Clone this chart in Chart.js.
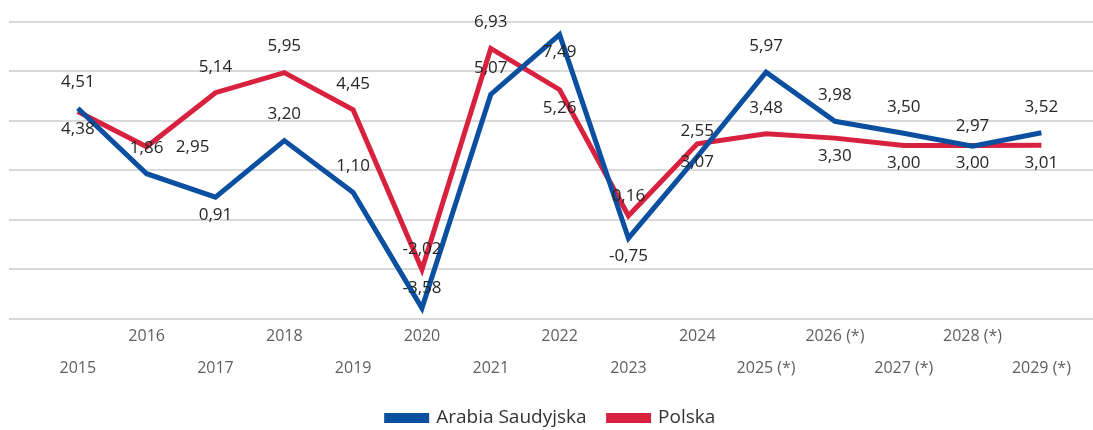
<!DOCTYPE html>
<html>
<head>
    <meta charset="utf-8">
    <title>Arabia Saudyjska / Polska</title>
    <script src="https://cdn.jsdelivr.net/npm/chart.js@4.4.1/dist/chart.umd.min.js"></script>
    <style>
        html, body {
            margin: 0;
            padding: 0;
            background: #ffffff;
        }
        .chart-box {
            width: 1093px;
            height: 430px;
            position: relative;
        }
    </style>
</head>
<body>
    <div class="chart-box">
        <canvas id="gdpChart"></canvas>
    </div>

    <script>
        // years (numeric position) and their axis labels
        const years = [2015, 2016, 2017, 2018, 2019, 2020, 2021, 2022, 2023, 2024, 2025, 2026, 2027, 2028, 2029];
        const yearLabels = ['2015', '2016', '2017', '2018', '2019', '2020', '2021', '2022', '2023', '2024',
            '2025 (*)', '2026 (*)', '2027 (*)', '2028 (*)', '2029 (*)'];

        const saudiValues = [4.51, 1.86, 0.91, 3.20, 1.10, -3.58, 5.07, 7.49, -0.75, 2.55, 5.97, 3.98, 3.50, 2.97, 3.52];
        const polandValues = [4.38, 2.95, 5.14, 5.95, 4.45, -2.02, 6.93, 5.26, 0.16, 3.07, 3.48, 3.30, 3.00, 3.00, 3.01];

        // where each value label sits relative to its point: t = above, n = just above, b = below, r = right
        const saudiLabelPos = ['t', 't', 'b', 't', 't', 'n', 't', 'b', 'b', 't', 't', 't', 't', 'n', 't'];
        const polandLabelPos = ['b', 'r', 't', 't', 't', 'n', 't', 'b', 'n', 'b', 't', 'b', 'b', 'b', 'b'];

        const blue = '#0b4fa1';
        const red = '#d8213f';

        function toPoints(values) {
            return values.map((v, i) => ({ x: years[i], y: v }));
        }

        // draws the value next to every point
        const valueLabels = {
            id: 'valueLabels',
            afterDatasetsDraw(chart) {
                const ctx = chart.ctx;
                ctx.save();
                ctx.font = '17px "Open Sans", sans-serif';
                ctx.fillStyle = '#262626';
                ctx.textAlign = 'center';
                ctx.textBaseline = 'middle';
                chart.data.datasets.forEach((ds, di) => {
                    const meta = chart.getDatasetMeta(di);
                    meta.data.forEach((pt, i) => {
                        const pos = ds.labelPos[i];
                        let x = pt.x, y = pt.y;
                        if (pos === 't') y -= 26;
                        else if (pos === 'n') y -= 20;
                        else if (pos === 'b') y += 18;
                        else if (pos === 'r') x += 46;
                        const txt = ds.data[i].y.toFixed(2).replace('.', ',');
                        ctx.fillText(txt, x, y);
                    });
                });
                ctx.restore();
            }
        };

        Chart.defaults.font.family = '"Open Sans", sans-serif';

        const ctx = document.getElementById('gdpChart').getContext('2d');
        new Chart(ctx, {
            type: 'line',
            data: {
                datasets: [{
                    label: 'Arabia Saudyjska',
                    data: toPoints(saudiValues),
                    labelPos: saudiLabelPos,
                    borderColor: blue,
                    backgroundColor: blue,
                    borderWidth: 5,
                    pointRadius: 0,
                    tension: 0
                }, {
                    label: 'Polska',
                    data: toPoints(polandValues),
                    labelPos: polandLabelPos,
                    borderColor: red,
                    backgroundColor: red,
                    borderWidth: 5,
                    pointRadius: 0,
                    tension: 0
                }]
            },
            options: {
                responsive: true,
                maintainAspectRatio: false,
                animation: false,
                layout: {
                    padding: { top: 22, left: 9, right: 0, bottom: -7.5 }
                },
                scales: {
                    x: {
                        type: 'linear',
                        min: 2014,
                        max: 2029.75,
                        grid: { display: false, drawTicks: false },
                        border: { display: false },
                        afterBuildTicks: axis => {
                            axis.ticks = years.map(v => ({ value: v }));
                        },
                        ticks: {
                            autoSkip: false,
                            maxRotation: 0,
                            padding: 2,
                            color: '#5f5f5f',
                            font: { size: 16, lineHeight: '32px' },
                            callback: function (value) {
                                const i = years.indexOf(value);
                                if (i < 0) return '';
                                return i % 2 === 0 ? ['', yearLabels[i]] : [yearLabels[i], ''];
                            }
                        }
                    },
                    y: {
                        min: -4,
                        max: 8,
                        grid: { color: '#d9d9d9', lineWidth: 2, drawTicks: false },
                        border: { display: false },
                        ticks: { display: false, stepSize: 2 }
                    }
                },
                plugins: {
                    legend: {
                        position: 'bottom',
                        labels: {
                            boxWidth: 40,
                            boxHeight: 5,
                            padding: 22,
                            color: '#333333',
                            font: { size: 19 }
                        }
                    },
                    tooltip: { enabled: false }
                }
            },
            plugins: [valueLabels]
        });
    </script>
</body>
</html>
